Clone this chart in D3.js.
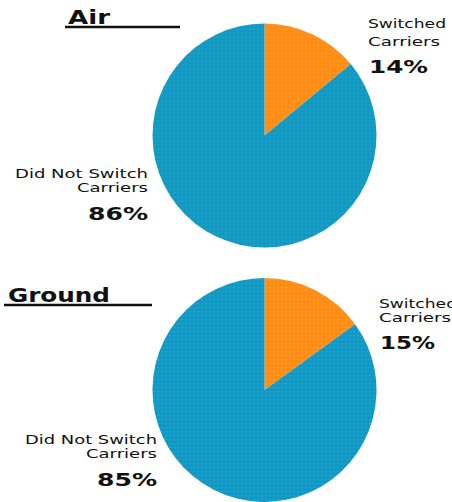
<!DOCTYPE html>
<html>
<head>
<meta charset="utf-8">
<script src="https://cdn.jsdelivr.net/npm/d3@7/dist/d3.min.js"></script>
<style>
  html, body { margin: 0; padding: 0; background: #fff; }
  svg { display: block; }
</style>
</head>
<body>
<svg id="chart" width="452" height="502"></svg>
<script>
// ---- data ----
const groups = ["Air", "Ground"];
const categories = ["Switched Carriers", "Did Not Switch Carriers"];
const airValues = [14, 86];
const groundValues = [15, 85];
const seriesValues = [airValues, groundValues];
const colors = ["#ff8c14", "#1198c4"];
const dotColors = ["#ffad3c", "#36b6b4"];

const svg = d3.select("#chart");
const defs = svg.append("defs");
colors.forEach((c, i) => {
  const p = defs.append("pattern")
    .attr("id", "pat" + i)
    .attr("width", 4).attr("height", 4)
    .attr("patternUnits", "userSpaceOnUse");
  p.append("rect").attr("width", 4).attr("height", 4).attr("fill", c);
  p.append("rect").attr("x", 1).attr("y", 1).attr("width", 1.3).attr("height", 1.3)
    .attr("fill", dotColors[i]).attr("opacity", 0.85);
});

// layout per panel
const layout = [
  { cx: 264.5, cy: 135.5, r: 112,
    title: { x: 68, y: 24, w: 42, size: 19 }, rule: { x1: 65, x2: 180, y: 27 },
    right: { x: 368, y1: 28, y2: 46, yp: 73, w1: 78, w2: 72, wp: 59 },
    left: { x: 148, y1: 178, y2: 192, yp: 220, w1: 133, w2: 71, wp: 60 } },
  { cx: 264.5, cy: 390, r: 112,
    title: { x: 8, y: 302, w: 102, size: 19 }, rule: { x1: 4, x2: 152, y: 305 },
    right: { x: 379, y1: 308, y2: 322, yp: 349, w1: 78, w2: 72, wp: 55 },
    left: { x: 157, y1: 444, y2: 458, yp: 486, w1: 132, w2: 71, wp: 60 } }
];

const pie = d3.pie().sort(null).value(d => d).startAngle(0).endAngle(2 * Math.PI);

function stretchedText(g, txt, x, y, w, size, weight, anchor) {
  return g.append("text")
    .attr("x", anchor === "end" ? x - w : x)
    .attr("y", y)
    .attr("textLength", w)
    .attr("lengthAdjust", "spacingAndGlyphs")
    .attr("font-family", "'DejaVu Sans', sans-serif")
    .attr("font-size", size)
    .attr("font-weight", weight)
    .attr("fill", "#111")
    .text(txt);
}

groups.forEach((name, gi) => {
  const L = layout[gi];
  const values = seriesValues[gi];
  const arc = d3.arc().innerRadius(0).outerRadius(L.r);
  const g = svg.append("g");

  g.append("g").attr("transform", `translate(${L.cx},${L.cy})`)
    .selectAll("path").data(pie(values)).join("path")
    .attr("d", arc)
    .attr("fill", (d, i) => `url(#pat${i})`);

  // title
  stretchedText(g, name, L.title.x, L.title.y, L.title.w, L.title.size, "bold", "start");
  g.append("line")
    .attr("x1", L.rule.x1).attr("x2", L.rule.x2)
    .attr("y1", L.rule.y).attr("y2", L.rule.y)
    .attr("stroke", "#111").attr("stroke-width", 2.5);

  // switched label (right)
  const sw = categories[0].split(" ");
  stretchedText(g, sw[0], L.right.x, L.right.y1, L.right.w1, 13, "normal", "start");
  stretchedText(g, sw[1], L.right.x, L.right.y2, L.right.w2, 13, "normal", "start");
  stretchedText(g, values[0] + "%", L.right.x + 1, L.right.yp, L.right.wp, 18, "bold", "start");

  // did not switch label (left)
  const ns = categories[1];
  const cut = ns.lastIndexOf(" ");
  stretchedText(g, ns.slice(0, cut), L.left.x, L.left.y1, L.left.w1, 13, "normal", "end");
  stretchedText(g, ns.slice(cut + 1), L.left.x, L.left.y2, L.left.w2, 13, "normal", "end");
  stretchedText(g, values[1] + "%", L.left.x, L.left.yp, L.left.wp, 18, "bold", "end");
});
</script>
</body>
</html>
